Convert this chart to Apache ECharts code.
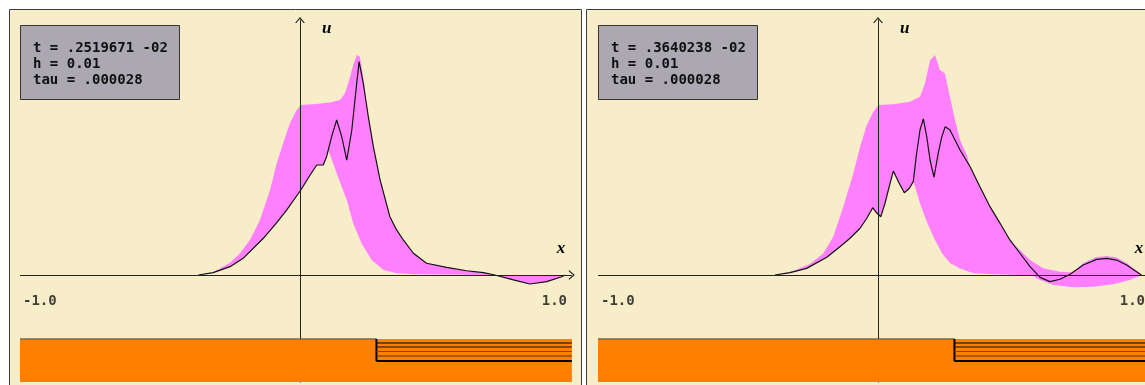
<!DOCTYPE html>
<html>
<head>
<meta charset="utf-8">
<script src="https://cdn.jsdelivr.net/npm/echarts@6/dist/echarts.min.js"></script>
<style>
  html, body { margin: 0; padding: 0; background: #fff; }
  #chart { width: 1145px; height: 385px; }
</style>
</head>
<body>
<div id="chart"></div>
<script>
// x ticks
const xTickValues = [-1, 1]
const xTickLabels = ['-1.0', '1.0']

// info box lines
const info1 = ['t = .2519671 -02', 'h = 0.01', 'tau = .000028']
const info2 = ['t = .3640238 -02', 'h = 0.01', 'tau = .000028']

// panel 1: solution u(x) and the band swept by it (upper / lower envelope)
const curve1 = [[-0.363,0],[-0.31,0.014],[-0.25,0.049],[-0.203,0.098],[-0.131,0.216],[-0.083,0.308],[-0.048,0.382],[0.003,0.5],[0.036,0.588],[0.06,0.647],[0.083,0.647],[0.095,0.696],[0.113,0.814],[0.131,0.912],[0.149,0.814],[0.167,0.676],[0.185,0.853],[0.2,1.088],[0.211,1.255],[0.226,1.128],[0.244,0.931],[0.262,0.755],[0.286,0.559],[0.321,0.343],[0.345,0.265],[0.369,0.206],[0.405,0.128],[0.452,0.069],[0.524,0.045],[0.595,0.025],[0.655,0.014],[0.696,0],[0.762,-0.029],[0.821,-0.053],[0.881,-0.039],[0.935,-0.01],[0.946,0]]
const upper1 = [[-0.363,0],[-0.31,0.016],[-0.25,0.072],[-0.214,0.128],[-0.179,0.206],[-0.143,0.324],[-0.107,0.5],[-0.083,0.657],[-0.06,0.775],[-0.036,0.892],[-0.012,0.971],[0.003,1.0],[0.048,1.004],[0.107,1.014],[0.143,1.029],[0.161,1.069],[0.179,1.166],[0.19,1.235],[0.203,1.294],[0.214,1.284],[0.224,1.186],[0.244,0.931],[0.262,0.755],[0.286,0.559],[0.321,0.343],[0.345,0.265],[0.369,0.206],[0.405,0.128],[0.452,0.069],[0.524,0.045],[0.595,0.025],[0.655,0.014],[0.696,0],[0.946,0]]
const lower1 = [[-0.363,0],[-0.31,0.014],[-0.25,0.049],[-0.203,0.098],[-0.131,0.216],[-0.083,0.308],[-0.048,0.382],[0.003,0.5],[0.036,0.588],[0.06,0.647],[0.083,0.647],[0.095,0.696],[0.101,0.735],[0.131,0.598],[0.167,0.441],[0.19,0.304],[0.22,0.186],[0.256,0.088],[0.298,0.029],[0.345,0.01],[0.405,0.004],[0.696,0],[0.762,-0.029],[0.821,-0.053],[0.881,-0.039],[0.935,-0.01],[0.946,0]]

// panel 2
const curve2 = [[-0.368,0],[-0.314,0.014],[-0.255,0.039],[-0.183,0.104],[-0.136,0.166],[-0.1,0.216],[-0.064,0.275],[-0.04,0.334],[-0.019,0.396],[-0.005,0.366],[0.01,0.343],[0.025,0.422],[0.043,0.539],[0.055,0.612],[0.073,0.549],[0.094,0.484],[0.112,0.51],[0.126,0.549],[0.138,0.716],[0.15,0.853],[0.162,0.918],[0.174,0.814],[0.186,0.676],[0.2,0.575],[0.215,0.716],[0.228,0.814],[0.24,0.872],[0.257,0.853],[0.293,0.735],[0.329,0.637],[0.364,0.519],[0.4,0.402],[0.436,0.304],[0.471,0.206],[0.507,0.128],[0.543,0.049],[0.579,-0.014],[0.614,-0.039],[0.65,-0.025],[0.686,0.004],[0.733,0.059],[0.781,0.092],[0.817,0.098],[0.852,0.088],[0.888,0.059],[0.918,0.025],[0.941,0]]
const upper2 = [[-0.368,0],[-0.303,0.024],[-0.243,0.065],[-0.195,0.128],[-0.16,0.225],[-0.124,0.402],[-0.088,0.598],[-0.064,0.755],[-0.04,0.882],[-0.017,0.961],[0.003,1.0],[0.055,1.004],[0.114,1.019],[0.15,1.049],[0.168,1.128],[0.186,1.265],[0.204,1.294],[0.221,1.206],[0.239,1.186],[0.257,1.049],[0.275,0.912],[0.293,0.794],[0.317,0.706],[0.329,0.637],[0.364,0.519],[0.4,0.402],[0.436,0.304],[0.471,0.206],[0.495,0.166],[0.543,0.088],[0.59,0.039],[0.65,0.019],[0.698,0.015],[0.733,0.071],[0.781,0.106],[0.817,0.112],[0.852,0.103],[0.888,0.071],[0.918,0.032],[0.941,0]]
const lower2 = [[-0.368,0],[-0.314,0.014],[-0.255,0.039],[-0.183,0.104],[-0.136,0.166],[-0.1,0.216],[-0.064,0.275],[-0.04,0.334],[-0.019,0.396],[-0.005,0.366],[0.01,0.343],[0.025,0.422],[0.043,0.539],[0.055,0.612],[0.073,0.549],[0.094,0.484],[0.112,0.51],[0.126,0.549],[0.132,0.519],[0.15,0.422],[0.174,0.314],[0.2,0.218],[0.229,0.126],[0.257,0.071],[0.293,0.038],[0.34,0.01],[0.412,0.004],[0.507,0],[0.554,-0.006],[0.579,-0.029],[0.626,-0.059],[0.698,-0.072],[0.769,-0.069],[0.84,-0.055],[0.9,-0.029],[0.941,0]]

// bottom strip: x of left edge / step / right edge, top & bottom, level lines
const stripX = [-1, 0.273, 0.971]
const stripTop = -0.376
const stripBottom = -0.63
const stripLevels = [-0.4, -0.4235, -0.45, -0.4765, -0.506]

const cream = '#f7edc9'
const pink = '#ff80ff'
const orange = '#ff7f00'
const boxGray = '#aca8b1'
const mono = '"DejaVu Sans Mono", "Liberation Mono", monospace'
const serif = '"Liberation Serif", "DejaVu Serif", serif'
const chevron = 'path://M0,6 L5,0 L10,6 L8.6,6 L5,1.7 L1.4,6 Z'
const axisEnd = 0.971
const levelColors = ['#000', '#1e0c00', '#8a4300', '#5e2e00', '#000']
const levelWidths = [1, 1, 1.2, 1.2, 2]

const panels = [
    { left: 20, frameX: 9.5, curve: curve1, upper: upper1, lower: lower1, info: info1 },
    { left: 598, frameX: 586.5, curve: curve2, upper: upper2, lower: lower2, info: info2 }
]

const chart = echarts.init(document.getElementById('chart'))

const grid = panels.map(p => ({
    left: p.left, top: 20, width: 560, height: 362.1,
    outerBoundsMode: 'none', containLabel: false
}))

const xAxis = panels.map((p, i) => ({
    gridIndex: i, type: 'value', min: -1, max: 1, z: 6,
    axisLine: { show: false, onZero: true },
    axisTick: { show: false },
    axisLabel: { show: false },
    splitLine: { show: false },
    name: 'x', nameLocation: 'end', nameGap: -19,
    nameTextStyle: {
        fontFamily: serif, fontSize: 17, fontWeight: 'bold', fontStyle: 'italic', color: '#000',
        align: 'center', verticalAlign: 'bottom', padding: [0, 0, 18, 0]
    }
}))

const yAxis = panels.map((p, i) => ({
    gridIndex: i, type: 'value', min: -0.63, max: 1.5, z: 3,
    axisLine: {
        show: true, onZero: true,
        symbol: ['none', chevron], symbolSize: [10, 6],
        lineStyle: { color: '#222', width: 1 }
    },
    axisTick: { show: false },
    axisLabel: { show: false },
    splitLine: { show: false },
    name: 'u', nameLocation: 'end', nameGap: -9,
    nameTextStyle: {
        fontFamily: serif, fontSize: 17, fontWeight: 'bold', fontStyle: 'italic', color: '#000',
        align: 'left', verticalAlign: 'middle', padding: [0, 0, 0, 22]
    }
}))

const series = []
panels.forEach((p, i) => {
    const poly = p.upper.concat(p.lower.slice().reverse())
    series.push({
        type: 'custom', xAxisIndex: i, yAxisIndex: i, z: 1, silent: true,
        data: poly,
        renderItem: (params, api) => {
            if (params.dataIndex !== 0) return
            return {
                type: 'polygon',
                shape: { points: poly.map(pt => api.coord(pt)) },
                style: { fill: pink }
            }
        }
    })
    series.push({
        type: 'line', xAxisIndex: i, yAxisIndex: i, z: 4,
        data: p.curve, showSymbol: false, silent: true,
        lineStyle: { color: '#111', width: 1.2 },
        markLine: {
            silent: true, animation: false,
            label: { show: false },
            lineStyle: { color: '#222', width: 1, type: 'solid' },
            data: [[
                { coord: [-1, 0], symbol: 'none' },
                { coord: [axisEnd, 0], symbol: chevron, symbolSize: [10, 6] }
            ]]
        }
    })
    // x tick labels, anchored at their axis values on the u = 0 line
    series.push({
        type: 'scatter', xAxisIndex: i, yAxisIndex: i, z: 6, silent: true,
        symbol: 'circle', symbolSize: 0.1,
        itemStyle: { color: 'transparent' },
        data: xTickValues.map((v, k) => ({
            value: [v, 0],
            label: {
                formatter: xTickLabels[k],
                align: k === 0 ? 'left' : 'right',
                offset: [k === 0 ? 3 : -13, 0]
            }
        })),
        label: {
            show: true, position: 'bottom', distance: 19,
            fontFamily: mono, fontSize: 14, fontWeight: 'bold', color: '#111'
        }
    })
    series.push({
        type: 'custom', xAxisIndex: i, yAxisIndex: i, z: 5, silent: true,
        data: [[stripX[0], stripTop]],
        renderItem: (params, api) => {
            const tl = api.coord([stripX[0], stripTop])
            const br = api.coord([stripX[2], stripBottom])
            const step = api.coord([stripX[1], stripTop])
            const children = [{
                type: 'rect',
                shape: { x: tl[0], y: tl[1], width: br[0] - tl[0], height: br[1] - tl[1] },
                style: { fill: orange }
            }, {
                type: 'line',
                shape: { x1: tl[0], y1: tl[1], x2: step[0], y2: tl[1] },
                style: { stroke: '#4a4a4a', lineWidth: 1 }
            }]
            const lastY = api.coord([stripX[1], stripLevels[stripLevels.length - 1]])[1]
            children.push({
                type: 'line',
                shape: { x1: step[0], y1: step[1], x2: step[0], y2: lastY },
                style: { stroke: '#000', lineWidth: 2 }
            })
            stripLevels.forEach((lv, k) => {
                const a = api.coord([stripX[1], lv])
                const b = api.coord([stripX[2], lv])
                children.push({
                    type: 'line',
                    shape: { x1: a[0], y1: a[1], x2: b[0], y2: b[1] },
                    style: { stroke: levelColors[k], lineWidth: levelWidths[k] }
                })
            })
            return { type: 'group', children }
        }
    })
})

const graphic = []
panels.forEach((p, i) => {
    graphic.push({
        type: 'rect', z: -10, silent: true,
        shape: { x: p.frameX, y: 9.5, width: i === 0 ? 572 : 620, height: 400 },
        style: { fill: cream, stroke: '#3c3c3c', lineWidth: 1 }
    })
    graphic.push({
        type: 'rect', z: 20, silent: true,
        shape: { x: p.left + 0.5, y: 25.5, width: 159, height: 74 },
        style: { fill: boxGray, stroke: '#333', lineWidth: 1 }
    })
    p.info.forEach((line, k) => {
        graphic.push({
            type: 'text', z: 21, silent: true,
            x: p.left + 13, y: 48 + 16 * k,
            style: {
                text: line, fill: '#111', verticalAlign: 'middle',
                font: 'bold 14px ' + mono
            }
        })
    })
})

chart.setOption({
    backgroundColor: '#fff',
    animation: false,
    grid,
    xAxis,
    yAxis,
    series,
    graphic: { elements: graphic }
})
</script>
</body>
</html>
